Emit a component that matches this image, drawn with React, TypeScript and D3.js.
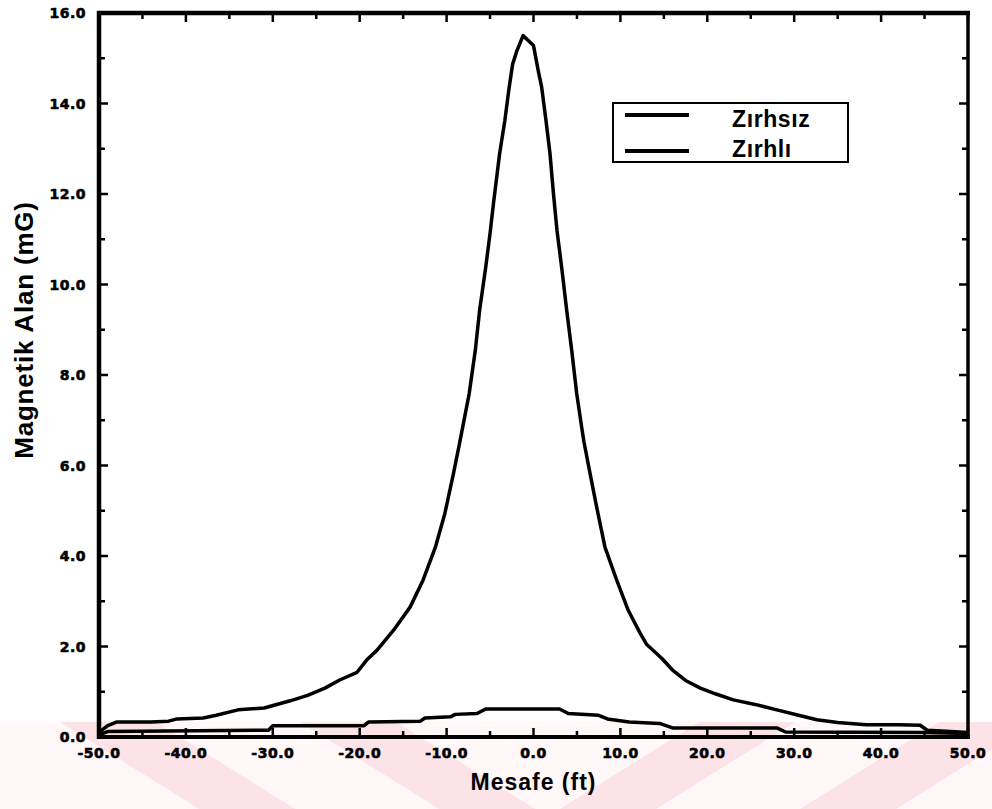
import React from "react";
import * as d3 from "d3";

// Zırhsız (unshielded) curve
const distUnshielded = [
  -50, -49, -48, -44, -42, -41, -38, -36.5, -34, -31, -28, -26, -24, -22.3, -20.3,
  -19.2, -18, -16.1, -14.2, -12.7, -11.3, -10.2, -9.2, -8.5, -7.4, -6.7, -6.2, -5.5,
  -5.0, -4.6, -3.9, -3.3, -2.8, -2.4, -1.9, -1.2, 0.0, 0.55, 0.94, 1.44, 1.9, 2.3, 2.7,
  3.24, 3.82, 4.4, 4.97, 5.55, 5.8, 6.5, 7.27, 8.23, 9.57, 10.9, 12.25, 13, 14.75, 16,
  17.5, 19.2, 21, 23, 25.5, 28, 30.5, 32.6, 35, 38.3, 42, 44.5, 45.3, 48, 50,
];
const fieldUnshielded = [
  0.1, 0.25, 0.33, 0.33, 0.35, 0.4, 0.42, 0.48, 0.6, 0.64, 0.8, 0.92, 1.08, 1.26, 1.43,
  1.7, 1.92, 2.36, 2.87, 3.47, 4.19, 4.94, 5.83, 6.5, 7.59, 8.54, 9.43, 10.38,
  11.13, 11.8, 12.89, 13.62, 14.36, 14.87, 15.17, 15.5, 15.28, 14.72, 14.36, 13.62, 12.89, 12.0, 11.2,
  10.38, 9.43, 8.54, 7.59, 6.84, 6.53, 5.83, 5.08, 4.19, 3.47, 2.8, 2.3, 2.05, 1.74, 1.48,
  1.25, 1.08, 0.95, 0.82, 0.72, 0.6, 0.48, 0.38, 0.32, 0.27, 0.27, 0.26, 0.15, 0.12, 0.1,
];

// Zırhlı (shielded) curve
const distShielded = [
  -50, -49, -30.5, -30, -19.5, -19, -13, -12.5, -9.5, -9, -6.5, -5.5, 3, 4, 7.5, 8.5,
  11, 14.5, 16, 28, 29, 45, 50,
];
const fieldShielded = [
  0.05, 0.12, 0.15, 0.25, 0.25, 0.33, 0.35, 0.42, 0.45, 0.5, 0.52, 0.62, 0.62, 0.52, 0.48, 0.4,
  0.33, 0.3, 0.2, 0.2, 0.11, 0.1, 0.08,
];

const xMajorTicks = [-50, -40, -30, -20, -10, 0, 10, 20, 30, 40, 50];
const xMinorTicks = [-45, -35, -25, -15, -5, 5, 15, 25, 35, 45];
const yMajorTicks = [0, 2, 4, 6, 8, 10, 12, 14, 16];
const yMinorTicks = [1, 3, 5, 7, 9, 11, 13, 15];
const legendLabels = ["Zırhsız", "Zırhlı"];
const xTitle = "Mesafe (ft)";
const yTitle = "Magnetik Alan (mG)";

export default function App() {
  const W = 992;
  const H = 809;
  const left = 99, right = 968, top = 13, bottom = 737;
  const x = d3.scaleLinear().domain([-50, 50]).range([left, right]);
  const y = d3.scaleLinear().domain([0, 16]).range([bottom, top]);
  const fmt = (v: number) => d3.format(".1f")(v).replace("\u2212", "-");

  const line = d3
    .line<[number, number]>()
    .x((d) => x(d[0]))
    .y((d) => y(d[1]))
    .curve(d3.curveLinear);

  const unshielded = distUnshielded.map((d, i) => [d, fieldUnshielded[i]] as [number, number]);
  const shielded = distShielded.map((d, i) => [d, fieldShielded[i]] as [number, number]);

  const tickFont = "'DejaVu Sans', sans-serif";
  const titleFont = "'Liberation Sans', Arial, sans-serif";

  // watermark stripes (decorative)
  const bandTop = 722;
  const stripeW = 48;
  const back = [60, 300];
  const fwd = [560, 800];
  const dxs = 1.6 * (H - bandTop);

  return (
    <svg
      width={W}
      height={H}
      style={{ position: "absolute", left: 0, top: 0, background: "#fff" }}
    >
      <rect x={0} y={0} width={W} height={H} fill="#fff" />
      <g>
        <rect x={0} y={bandTop} width={W} height={H - bandTop} fill="#fff7f8" />
        {back.map((sx, i) => (
          <polygon
            key={"b" + i}
            points={`${sx},${bandTop} ${sx + stripeW * 2},${bandTop} ${sx + stripeW * 2 + dxs},${H} ${sx + dxs},${H}`}
            fill="#fbe3e7"
          />
        ))}
        {fwd.map((sx, i) => (
          <polygon
            key={"f" + i}
            points={`${sx},${H} ${sx + stripeW * 2},${H} ${sx + stripeW * 2 + dxs},${bandTop} ${sx + dxs},${bandTop}`}
            fill="#fbe3e7"
          />
        ))}
      </g>

      {/* curves */}
      <path d={line(unshielded) || ""} fill="none" stroke="#000" strokeWidth={3.5} strokeLinejoin="round" />
      <path d={line(shielded) || ""} fill="none" stroke="#000" strokeWidth={3.5} strokeLinejoin="round" />

      {/* frame */}
      <line x1={left} x2={left} y1={top - 2} y2={bottom + 2} stroke="#000" strokeWidth={4.5} />
      <line x1={left - 2} x2={right + 2} y1={top} y2={top} stroke="#000" strokeWidth={4.5} />
      <line x1={right} x2={right} y1={top - 2} y2={bottom + 2} stroke="#000" strokeWidth={3.5} />
      <line x1={left - 2} x2={right + 2} y1={bottom} y2={bottom} stroke="#000" strokeWidth={4} />

      {/* x ticks */}
      {xMajorTicks.map((t) => (
        <g key={"xm" + t}>
          <line x1={x(t)} x2={x(t)} y1={bottom} y2={bottom - 9} stroke="#000" strokeWidth={2.5} />
          <line x1={x(t)} x2={x(t)} y1={top} y2={top + 9} stroke="#000" strokeWidth={2.5} />
          <text
            x={x(t)}
            y={758}
            textAnchor="middle"
            fontFamily={tickFont}
            fontWeight="bold"
            fontSize={14}
            letterSpacing={0.5}
            stroke="#000"
            strokeWidth={0.6}
          >
            {fmt(t)}
          </text>
        </g>
      ))}
      {xMinorTicks.map((t) => (
        <g key={"xn" + t}>
          <line x1={x(t)} x2={x(t)} y1={bottom} y2={bottom - 6} stroke="#000" strokeWidth={2.5} />
          <line x1={x(t)} x2={x(t)} y1={top} y2={top + 6} stroke="#000" strokeWidth={2.5} />
        </g>
      ))}

      {/* y ticks */}
      {yMajorTicks.map((t) => (
        <g key={"ym" + t}>
          <line x1={left} x2={left + 9} y1={y(t)} y2={y(t)} stroke="#000" strokeWidth={2.5} />
          <line x1={right} x2={right - 9} y1={y(t)} y2={y(t)} stroke="#000" strokeWidth={2.5} />
          <text
            x={86}
            y={y(t) + 5}
            textAnchor="end"
            fontFamily={tickFont}
            fontWeight="bold"
            fontSize={14}
            letterSpacing={0.5}
            stroke="#000"
            strokeWidth={0.6}
          >
            {fmt(t)}
          </text>
        </g>
      ))}
      {yMinorTicks.map((t) => (
        <g key={"yn" + t}>
          <line x1={left} x2={left + 6} y1={y(t)} y2={y(t)} stroke="#000" strokeWidth={2.5} />
          <line x1={right} x2={right - 6} y1={y(t)} y2={y(t)} stroke="#000" strokeWidth={2.5} />
        </g>
      ))}

      {/* axis titles */}
      <text
        x={(left + right) / 2}
        y={790}
        textAnchor="middle"
        fontFamily={titleFont}
        fontWeight="bold"
        fontSize={23}
        letterSpacing={1}
      >
        {xTitle}
      </text>
      <text
        transform={`translate(33,330) rotate(-90)`}
        textAnchor="middle"
        fontFamily={titleFont}
        fontWeight="bold"
        fontSize={26}
        letterSpacing={0.8}
      >
        {yTitle}
      </text>

      {/* legend */}
      <rect x={613} y={103} width={235} height={59} fill="#fff" stroke="#000" strokeWidth={2} />
      {legendLabels.map((lab, i) => (
        <g key={lab}>
          <line x1={625} x2={689} y1={115 + i * 36} y2={115 + i * 36} stroke="#000" strokeWidth={4} />
          <text
            x={732}
            y={127 + i * 30}
            fontFamily={titleFont}
            fontWeight="bold"
            fontSize={23}
            letterSpacing={0.6}
          >
            {lab}
          </text>
        </g>
      ))}
    </svg>
  );
}
